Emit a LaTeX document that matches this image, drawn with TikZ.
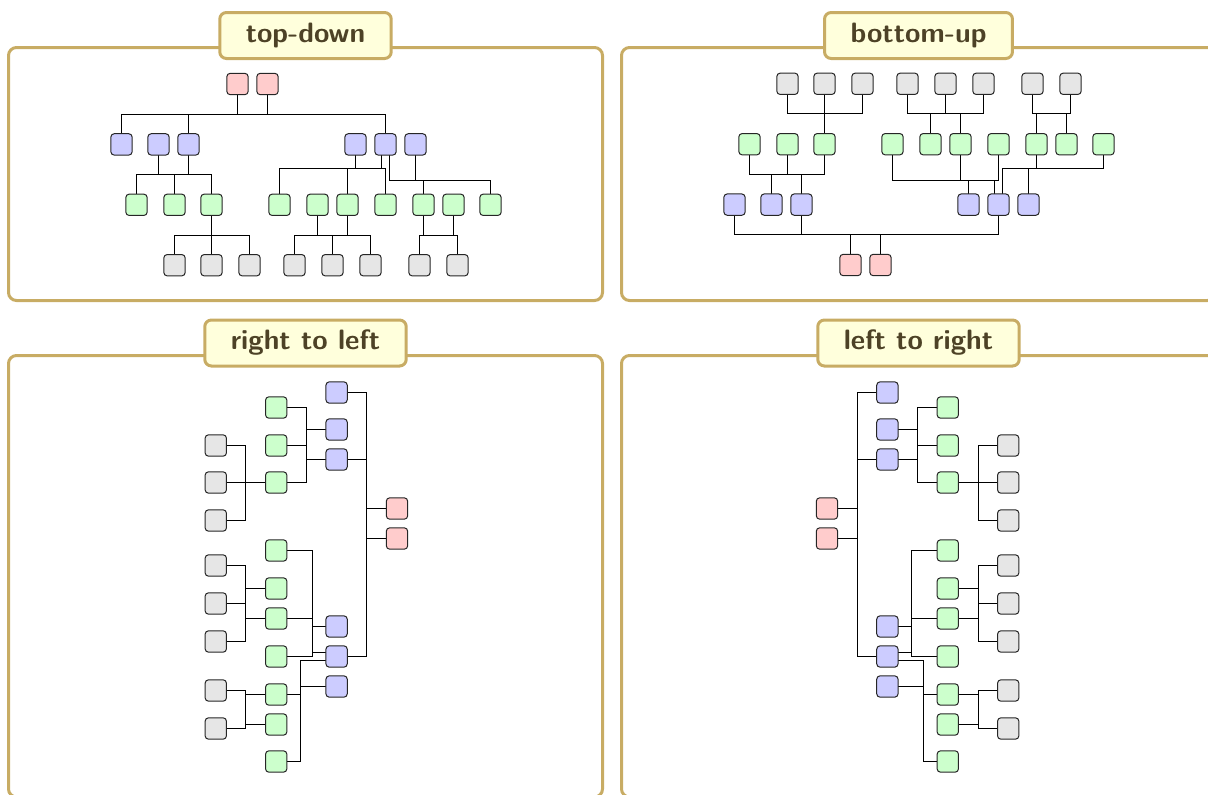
\documentclass[tikz,border=0pt]{standalone}
\usepackage{fontspec}
\usetikzlibrary{calc}

\pgfdeclarelayer{background}
\pgfsetlayers{background,main}

\definecolor{famred}{RGB}{255,204,204}
\definecolor{famblue}{RGB}{204,204,255}
\definecolor{famgreen}{RGB}{204,255,204}
\definecolor{famgray}{RGB}{230,230,230}
\definecolor{framecol}{RGB}{200,172,100}
\definecolor{titlefill}{RGB}{255,255,220}
\definecolor{titletext}{RGB}{77,66,38}

\tikzset{
    gnode/.style={rectangle, rounded corners=2.5pt, draw=black!85, line width=0.75pt,
        minimum size=16pt, inner sep=0pt},
    famline/.style={line width=1.05pt, line cap=rect},
    panel/.style={draw=framecol, line width=2.25pt, rounded corners=6pt},
    paneltitle/.style={draw=framecol, fill=titlefill, line width=2.25pt, rounded corners=5pt,
        text=titletext, font=\fontsize{21}{25}\selectfont\sffamily\bfseries,
        inner xsep=19.5pt, minimum height=34.5pt}
}

% one tree, grown along the scope's x (siblings) and y (generations) axes
% #1 is |- for vertical growth and -| for horizontal growth
\newcommand\growtree[1]{%
    \foreach \nm/\pos/\gen/\col in {R1/237.5/0/famred, R2/267.5/0/famred,
        B1/121.5/1/famblue, B2/158.5/1/famblue, B3/188.5/1/famblue,
        B4/355.5/1/famblue, B5/385.5/1/famblue, B6/415.5/1/famblue,
        G1/136.5/2/famgreen, G2/174.5/2/famgreen, G3/211.5/2/famgreen, G4/279.5/2/famgreen,
        G5/317.5/2/famgreen, G6/347.5/2/famgreen, G7/385.5/2/famgreen,
        G8/423.5/2/famgreen, G9/453.5/2/famgreen, G10/490.5/2/famgreen,
        K1/174.5/3/famgray, K2/211.5/3/famgray, K3/249.5/3/famgray, K4/294.5/3/famgray,
        K5/332.5/3/famgray, K6/370.5/3/famgray, K7/419.5/3/famgray, K8/457.5/3/famgray}
        \node[gnode, fill=\col] (\nm) at (\pos, \gen*60.4) {};
    \coordinate (f0) at (0,30.5);
    \coordinate (f1) at (0,90.5);
    \coordinate (f2) at (0,84.5);
    \coordinate (f3) at (0,96.5);
    \coordinate (f4) at (0,151.5);
    \coordinate (B5l) at ($(B5)+(-4,0)$);
    \coordinate (B5r) at ($(B5)+(4,0)$);
    \begin{pgfonlayer}{background}
        \foreach \lvl/\fa/\fb/\members in {f0/B1/B5/{R1,R2,B1,B3,B5},
            f1/G1/G3/{B2,B3,G1,G2,G3}, f2/G4/G7/{B4,B5l,G4,G6,G7},
            f3/B5r/G10/{B5r,B6,G8,G10}, f4/K1/K3/{G3,K1,K2,K3},
            f4/K4/K6/{G5,G6,K4,K5,K6}, f4/K7/K8/{G8,G9,K7,K8}} {
            \draw[famline] (\fa #1 \lvl) -- (\fb #1 \lvl);
            \foreach \m in \members
                \draw[famline] (\m) -- (\m #1 \lvl);
        }
    \end{pgfonlayer}
}

\begin{document}
\begin{tikzpicture}[x=0.75pt, y=-0.75pt]
    \useasboundingbox (0,0) rectangle (1208,794);
    \clip (0,0) rectangle (1208,794);

    % frames
    \draw[panel] (8.5,47.5) rectangle (602.5,300.5);
    \draw[panel] (621.5,47.5) rectangle (1215.5,300.5);
    \draw[panel] (8.5,355.5) rectangle (602.5,797);
    \draw[panel] (621.5,355.5) rectangle (1215.5,797);
    \node[paneltitle] (topdown) at (305.5,35.5) {top-down};
    \node[paneltitle] (bottomup) at (918.5,35.5) {bottom-up};
    \node[paneltitle] (righttoleft) at (305.5,343) {right to left};
    \node[paneltitle] (lefttoright) at (918.5,343) {left to right};

    \begin{scope}[shift={(0,84)}, x={(0.75pt,0pt)}, y={(0pt,-0.75pt)}, name prefix=td-]
        \growtree{|-}
    \end{scope}
    \begin{scope}[shift={(613,265)}, x={(0.75pt,0pt)}, y={(0pt,0.75pt)}, name prefix=bu-]
        \growtree{|-}
    \end{scope}
    \begin{scope}[shift={(397,271)}, x={(0pt,-0.75pt)}, y={(-0.75pt,0pt)}, name prefix=rl-]
        \growtree{-|}
    \end{scope}
    \begin{scope}[shift={(827,271)}, x={(0pt,-0.75pt)}, y={(0.75pt,0pt)}, name prefix=lr-]
        \growtree{-|}
    \end{scope}
\end{tikzpicture}
\end{document}
